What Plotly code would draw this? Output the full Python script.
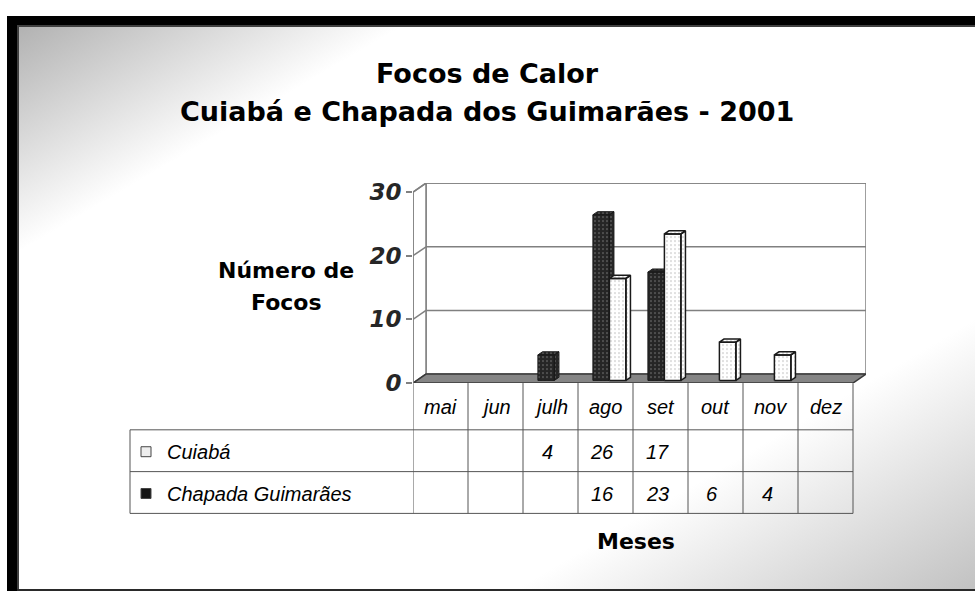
import base64
import plotly.graph_objects as go

# Dados
meses = ['mai', 'jun', 'julh', 'ago', 'set', 'out', 'nov', 'dez']
cuiaba = [None, None, 4, 26, 17, None, None, None]
chapada = [None, None, None, 16, 23, 6, 4, None]
y_ticks = [0, 10, 20, 30]

titulo1 = 'Focos de Calor'
titulo2 = 'Cuiabá e Chapada dos Guimarães - 2001'

W, H = 975, 591

def px(x):
    return x / W

def py(y):
    return 1 - y / H

# geometria 3D (em unidades dos eixos)
DX = 13 / 55.0      # profundidade horizontal
DY = 9 / 6.4        # profundidade vertical
LARG = 0.3          # largura da barra
F = 0.3             # posicao da frente da barra na profundidade
P = 0.35            # profundidade da barra

def prismas(valores, desloc):
    xs, ys = [], []
    for i, v in enumerate(valores):
        if v is None:
            continue
        x0 = i + desloc - LARG / 2 + F * DX
        x1 = x0 + LARG
        b = F * DY
        t = b + v
        ex, ey = P * DX, P * DY
        # frente
        xs += [x0, x1, x1, x0, x0, None]
        ys += [b, b, t, t, b, None]
        # topo
        xs += [x0, x1, x1 + ex, x0 + ex, x0, None]
        ys += [t, t, t + ey, t + ey, t, None]
        # lado
        xs += [x1, x1 + ex, x1 + ex, x1, x1, None]
        ys += [b, b + ey, t + ey, t, b, None]
    return xs, ys

fig = go.Figure()

xs, ys = prismas(cuiaba, -0.15)
fig.add_trace(go.Scatter(
    x=xs, y=ys, mode='lines', fill='toself',
    fillcolor='#262626',
    fillpattern=dict(shape='.', bgcolor='#262626', fgcolor='#8c8c8c',
                     size=4, solidity=0.1, fillmode='replace'),
    line=dict(color='#1a1a1a', width=1),
    hoverinfo='skip', showlegend=False,
))

xs, ys = prismas(chapada, 0.15)
fig.add_trace(go.Scatter(
    x=xs, y=ys, mode='lines', fill='toself',
    fillcolor='#ffffff',
    fillpattern=dict(shape='.', bgcolor='#ffffff', fgcolor='#b0b0b0',
                     size=4, solidity=0.1, fillmode='replace'),
    line=dict(color='#1a1a1a', width=1.5),
    hoverinfo='skip', showlegend=False,
))

n = len(meses)
x_min, x_max = -0.5, n - 0.5
y_top = max(y_ticks)

shapes = []

# fundo degradê (svg)
svg = ('<svg xmlns="http://www.w3.org/2000/svg" width="956" height="565" '
       'viewBox="0 0 956 565" preserveAspectRatio="none">'
       '<defs><linearGradient id="g" x1="0" y1="0" x2="1" y2="1">'
       '<stop offset="0" stop-color="#b2b2b2"/>'
       '<stop offset="0.2" stop-color="#ffffff"/>'
       '<stop offset="0.76" stop-color="#ffffff"/>'
       '<stop offset="1" stop-color="#c2c2c2"/>'
       '</linearGradient></defs>'
       '<rect width="956" height="565" fill="url(#g)"/></svg>')
fundo = 'data:image/svg+xml;base64,' + base64.b64encode(svg.encode()).decode()

# moldura preta
shapes.append(dict(type='rect', xref='paper', yref='paper', x0=px(7), x1=1,
                   y0=py(21), y1=py(12), fillcolor='black', line_width=0, layer='below'))
shapes.append(dict(type='rect', xref='paper', yref='paper', x0=px(7), x1=px(17),
                   y0=0, y1=py(12), fillcolor='black', line_width=0, layer='below'))
shapes.append(dict(type='rect', xref='paper', yref='paper', x0=px(17), x1=1,
                   y0=py(23), y1=py(21), fillcolor='#404040', line_width=0, layer='below'))
shapes.append(dict(type='rect', xref='paper', yref='paper', x0=px(17), x1=px(19),
                   y0=0, y1=py(21), fillcolor='#404040', line_width=0, layer='below'))
shapes.append(dict(type='rect', xref='paper', yref='paper', x0=px(17), x1=1,
                   y0=0, y1=py(588), fillcolor='#2a2a2a', line_width=0, layer='below'))

# paredes
parede = dict(color='#808080', width=1.5)
shapes.append(dict(type='rect', xref='x', yref='y', x0=x_min + DX, x1=x_max + DX,
                   y0=DY, y1=y_top + DY, fillcolor='white', line=parede, layer='below'))
shapes.append(dict(type='path', xref='x', yref='y',
                   path=f'M{x_min},0 L{x_min},{y_top} L{x_min + DX},{y_top + DY} L{x_min + DX},{DY} Z',
                   fillcolor='white', line=parede, layer='below'))
for v in y_ticks[1:]:
    shapes.append(dict(type='line', xref='x', yref='y', x0=x_min + DX, x1=x_max + DX,
                       y0=v + DY, y1=v + DY, line=parede, layer='below'))
for v in y_ticks:
    shapes.append(dict(type='line', xref='x', yref='y', x0=x_min, x1=x_min + DX,
                       y0=v, y1=v + DY, line=parede, layer='below'))
# piso
shapes.append(dict(type='path', xref='x', yref='y',
                   path=f'M{x_min},0 L{x_max},0 L{x_max + DX},{DY} L{x_min + DX},{DY} Z',
                   fillcolor='#858585', line=dict(color='#383838', width=1.5), layer='below'))

# tabela de dados
tab = dict(color='#555555', width=1)
y_cab, y_l1, y_l2, y_fim = 381, 428, 470, 512
for k in range(n + 1):
    shapes.append(dict(type='line', xref='x', yref='paper', x0=k - 0.5, x1=k - 0.5,
                       y0=py(y_fim), y1=py(y_cab), line=tab))
for yy in [y_l1, y_l2, y_fim]:
    shapes.append(dict(type='line', xref='paper', yref='paper', x0=px(130), x1=px(853),
                       y0=py(yy), y1=py(yy), line=tab))
shapes.append(dict(type='line', xref='paper', yref='paper', x0=px(130), x1=px(130),
                   y0=py(y_fim), y1=py(y_l1), line=tab))
# simbolos da legenda
shapes.append(dict(type='rect', xref='paper', yref='paper', x0=px(141), x1=px(151),
                   y0=py(455), y1=py(445), fillcolor='#eeeeee', line=dict(color='#444', width=1)))
shapes.append(dict(type='rect', xref='paper', yref='paper', x0=px(141), x1=px(151),
                   y0=py(497), y1=py(487), fillcolor='#141414', line=dict(color='#444', width=1)))

def texto(x, y, t, fonte, xref='paper', xanchor='center'):
    return dict(x=x, y=y, xref=xref, yref='paper', text=t, showarrow=False,
                xanchor=xanchor, yanchor='middle', font=fonte)

annotations = []
fonte_tab = dict(family='Liberation Sans', size=20, color='black', style='italic')
for i, m in enumerate(meses):
    annotations.append(texto(i, py(405), m, fonte_tab, xref='x'))
for serie, yy in [(cuiaba, 450), (chapada, 492)]:
    for i, v in enumerate(serie):
        if v is None:
            continue
        annotations.append(texto(i - 0.06, py(yy), str(v), fonte_tab, xref='x'))
annotations.append(texto(px(165), py(450), 'Cuiabá', fonte_tab, xanchor='left'))
annotations.append(texto(px(165), py(492), 'Chapada Guimarães', fonte_tab, xanchor='left'))

fonte_tit = dict(family='DejaVu Sans', size=27, color='black', weight='bold')
annotations.append(texto(px(487), py(70), titulo1, fonte_tit))
annotations.append(texto(px(487), py(108), titulo2, fonte_tit))

fonte_eixo = dict(family='DejaVu Sans', size=22, color='black', weight='bold')
annotations.append(texto(px(286), py(268), 'Número de', fonte_eixo))
annotations.append(texto(px(286), py(300), 'Focos', fonte_eixo))
annotations.append(texto(px(636), py(540), 'Meses', fonte_eixo))

# eixo y (linha frontal)
shapes.append(dict(type='line', xref='x', yref='y', x0=x_min, x1=x_min,
                   y0=0, y1=y_top, line=parede, layer='below'))

# a captura sai ~14px mais alta que a janela; a figura cobre essa altura
fig.update_layout(
    width=W, height=605,
    margin=dict(l=0, r=0, t=0, b=0),
    paper_bgcolor='white',
    plot_bgcolor='rgba(0,0,0,0)',
    showlegend=False,
    shapes=shapes,
    annotations=annotations,
    images=[dict(source=fundo, xref='paper', yref='paper', x=px(19), y=py(23),
                 sizex=956 / W, sizey=565 / H, xanchor='left', yanchor='top',
                 sizing='stretch', layer='below')],
    xaxis=dict(domain=[px(413), px(413 + 55 * (n + DX))], range=[x_min, x_max + DX],
               visible=False, fixedrange=True),
    yaxis=dict(domain=[py(381), py(381 - 6.4 * (y_top + DY))], range=[0, y_top + DY],
               tickvals=y_ticks, ticks='outside', ticklen=6, tickwidth=1.5,
               tickcolor='#808080', showgrid=False, zeroline=False, showline=False,
               tickfont=dict(family='DejaVu Sans', size=23, color='#262626',
                             weight='bold', style='italic'),
               fixedrange=True),
)

js = "document.body.style.margin='0';"
fig.write_html('out.html', config={'displayModeBar': False}, post_script=js)
